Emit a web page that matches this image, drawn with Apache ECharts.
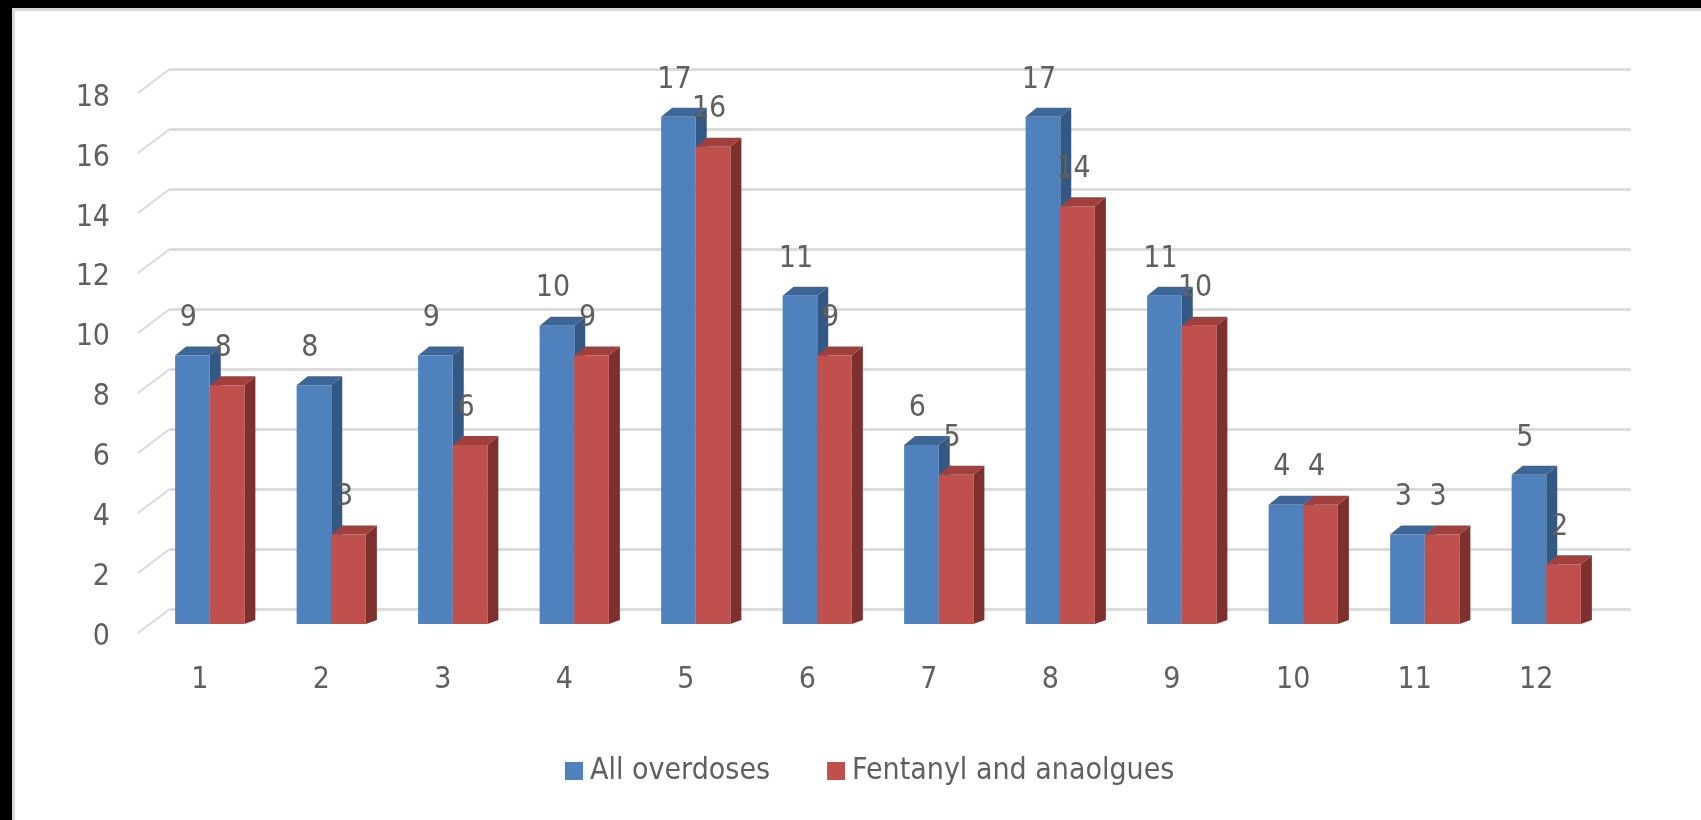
<!DOCTYPE html>
<html>
<head>
<meta charset="utf-8">
<script src="https://cdn.jsdelivr.net/npm/echarts@6/dist/echarts.min.js"></script>
<style>
  html, body { margin: 0; padding: 0; background: #ffffff; }
  #grafico { width: 1701px; height: 820px; }
</style>
</head>
<body>
<div id="grafico"></div>
<script>
// Datos
const categorias = ['1', '2', '3', '4', '5', '6', '7', '8', '9', '10', '11', '12'];
const todasSobredosis = [9, 8, 9, 10, 17, 11, 6, 17, 11, 4, 3, 5];
const fentanilo = [8, 3, 6, 9, 16, 9, 5, 14, 10, 4, 3, 2];
const marcasEje = [0, 2, 4, 6, 8, 10, 12, 14, 16, 18];

const fuente = "'Liberation Sans Narrow', 'Arial Narrow', 'DejaVu Sans Condensed', sans-serif";
const gris = '#5f5f5f';

// caras de la barra 3D: frente, arriba, lado
const azul = { frente: '#4F81BD', arriba: '#3C6697', lado: '#345884' };
const rojo = { frente: '#C0504D', arriba: '#A13F3C', lado: '#7E302E' };

// dibuja una barra con efecto 3D (lado 0 = izquierda, 1 = derecha)
function barra3d(lado, colores) {
    return function (params, api) {
        const i = api.value(0);
        const v = api.value(1);
        const tope = api.coord([i, v]);
        const base = api.coord([i, 0]);
        const banda = api.size([1, 0])[0];
        const w = banda * 0.285;
        const x0 = lado === 0 ? tope[0] - w : tope[0];
        const x1 = x0 + w;
        const dx = 11, dy = 9;
        return {
            type: 'group',
            children: [
                {
                    type: 'polygon',
                    shape: { points: [[x1, tope[1]], [x1 + dx, tope[1] - dy], [x1 + dx, base[1] - 4], [x1, base[1]]] },
                    style: { fill: colores.lado }
                },
                {
                    type: 'polygon',
                    shape: { points: [[x0, tope[1]], [x0 + dx, tope[1] - dy], [x1 + dx, tope[1] - dy], [x1, tope[1]]] },
                    style: { fill: colores.arriba }
                },
                {
                    type: 'rect',
                    shape: { x: x0, y: tope[1], width: w, height: base[1] - tope[1] },
                    style: { fill: colores.frente }
                },
                {
                    type: 'text',
                    z2: 100,
                    style: {
                        x: x0 + w / 2 - 4,
                        y: tope[1] - 22,
                        text: String(v),
                        align: 'center',
                        verticalAlign: 'bottom',
                        font: '30px ' + fuente,
                        fill: gris
                    }
                }
            ]
        };
    };
}

// lineas diagonales del eje (de la pared de fondo al frente)
function diagonal(params, api) {
    const p = api.coord([0, api.value(0)]);
    return {
        type: 'line',
        shape: { x1: p[0] - 32, y1: p[1] + 24, x2: p[0], y2: p[1] },
        style: { stroke: '#d9d9d9', lineWidth: 2 }
    };
}

function crearGrafico() {
    return {
        animation: false,
        backgroundColor: '#ffffff',
        textStyle: { fontFamily: fuente },
        graphic: [
            { type: 'rect', shape: { x: 0, y: 0, width: 1701, height: 8 }, style: { fill: '#000' } },
            { type: 'rect', shape: { x: 0, y: 0, width: 12, height: 820 }, style: { fill: '#000' } },
            { type: 'rect', shape: { x: 12, y: 8, width: 1689, height: 3 }, style: { fill: '#d9d9d9' } },
            { type: 'rect', shape: { x: 12, y: 8, width: 3, height: 812 }, style: { fill: '#d9d9d9' } }
        ],
        legend: {
            data: ['All overdoses', 'Fentanyl and anaolgues'],
            left: 560,
            top: 751,
            icon: 'rect',
            itemWidth: 18,
            itemHeight: 18,
            itemGap: 57,
            textStyle: { fontSize: 30, color: gris, fontFamily: fuente, padding: [4, 0, 0, 2] }
        },
        grid: [
            // pared de fondo
            { left: 170, right: 70, top: 69, bottom: 211 },
            // plano frontal (etiquetas)
            { left: 139, right: 104, top: 98, bottom: 183 },
            // barras
            { left: 149, right: 94, top: 87, bottom: 196 }
        ],
        xAxis: [
            { gridIndex: 0, type: 'value', min: 0, max: 1, show: false },
            {
                gridIndex: 1, type: 'category', data: categorias,
                axisLine: { show: false }, axisTick: { show: false },
                axisLabel: { fontSize: 30, color: gris, margin: 28, fontFamily: fuente }
            },
            { gridIndex: 2, type: 'category', data: categorias, show: false }
        ],
        yAxis: [
            {
                gridIndex: 0, type: 'value', min: 0, max: 18, interval: 2,
                axisLine: { show: false }, axisTick: { show: false }, axisLabel: { show: false },
                splitLine: { lineStyle: { color: '#dcdcdc', width: 3 } }
            },
            {
                gridIndex: 1, type: 'value', min: 0, max: 18, interval: 2,
                axisLine: { show: false }, axisTick: { show: false }, splitLine: { show: false },
                axisLabel: { fontSize: 30, color: gris, margin: 29, fontFamily: fuente }
            },
            { gridIndex: 2, type: 'value', min: 0, max: 18, show: false }
        ],
        series: [
            {
                type: 'custom',
                xAxisIndex: 0, yAxisIndex: 0,
                renderItem: diagonal,
                data: marcasEje.map(v => [v]),
                silent: true
            },
            {
                name: 'All overdoses',
                type: 'custom',
                xAxisIndex: 2, yAxisIndex: 2,
                itemStyle: { color: azul.frente },
                renderItem: barra3d(0, azul),
                data: todasSobredosis.map((v, i) => [i, v])
            },
            {
                name: 'Fentanyl and anaolgues',
                type: 'custom',
                xAxisIndex: 2, yAxisIndex: 2,
                itemStyle: { color: rojo.frente },
                renderItem: barra3d(1, rojo),
                data: fentanilo.map((v, i) => [i, v])
            }
        ]
    };
}

function iniciar() {
    const chartDom = document.getElementById('grafico');
    const myChart = echarts.init(chartDom, null, { renderer: 'canvas' });
    myChart.setOption(crearGrafico());
}

iniciar();
</script>
</body>
</html>
